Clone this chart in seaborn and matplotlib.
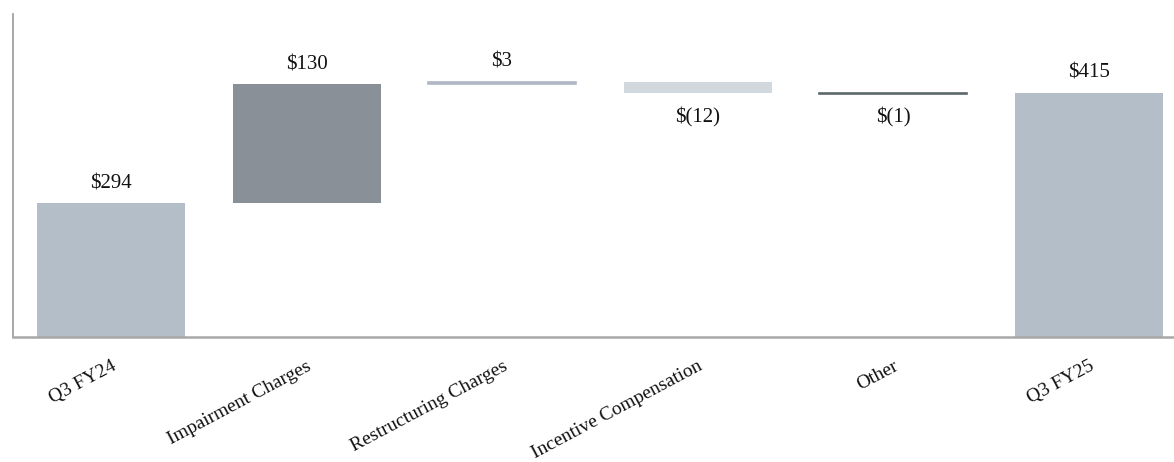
import matplotlib
matplotlib.use("Agg")
import matplotlib.pyplot as plt
import seaborn as sns
import numpy as np
import pandas as pd

categories = ["Q3 FY24", "Impairment Charges", "Restructuring Charges",
              "Incentive Compensation", "Other", "Q3 FY25"]
changes = [294, 130, 3, -12, -1, 415]
is_total = [True, False, False, False, False, True]
value_labels = ["$294", "$130", "$3", "$(12)", "$(1)", "$415"]
bar_colors = ["#B4BEC8", "#8A9097", "#AFB8C3", "#D1D9DF", "#5E686C", "#B4BEC8"]

# waterfall geometry from the data
bottoms, heights = [], []
running = 0
for v, tot in zip(changes, is_total):
    if tot:
        bottoms.append(0)
        heights.append(v)
        running = v
    else:
        if v >= 0:
            bottoms.append(running)
            heights.append(v)
        else:
            bottoms.append(running + v)
            heights.append(-v)
        running += v
tops = [b + h for b, h in zip(bottoms, heights)]

df = pd.DataFrame({"category": categories, "height": heights})

sns.set_theme(style="white")
plt.rcParams["font.family"] = ["Liberation Serif", "DejaVu Serif"]

fig = plt.figure(figsize=(11.74, 4.62), dpi=100)
ax = fig.add_axes([12.5 / 1174, 125 / 462, 1 - 12.5 / 1174, (337 - 14) / 462])

sns.barplot(data=df, x="category", y="height", order=categories,
            bottom=np.array(bottoms), width=0.757, ax=ax,
            errorbar=None, color=bar_colors[0], saturation=1)

for patch, c, ch in zip(ax.patches, bar_colors, changes):
    patch.set_facecolor(c)
    if abs(ch) <= 3:
        patch.set_edgecolor(c)
        patch.set_linewidth(1.2)
    else:
        patch.set_linewidth(0)

ax.set_xlim(-0.504, 5.437)
ax.set_ylim(148, 501)

for i, (lab, ch, tot) in enumerate(zip(value_labels, changes, is_total)):
    if ch >= 0 or tot:
        ax.annotate(lab, xy=(i, tops[i]), xytext=(0, 14), textcoords="offset points",
                    ha="center", va="center", fontsize=15, color="#111111")
    else:
        ax.annotate(lab, xy=(i, bottoms[i]), xytext=(0, -17.5), textcoords="offset points",
                    ha="center", va="center", fontsize=15, color="#111111")

ax.set_xlabel("")
ax.set_ylabel("")
ax.set_yticks([])
ax.set_xticks(range(len(categories)))
ax.set_xticklabels(categories, rotation=28, ha="right", va="top",
                   rotation_mode="anchor", fontsize=14, color="#111111")
ax.tick_params(axis="x", length=0, pad=15)

for s in ["top", "right"]:
    ax.spines[s].set_visible(False)
ax.spines["left"].set_color("#9A9A9A")
ax.spines["left"].set_linewidth(1.2)
ax.spines["bottom"].set_color("#A8A8A8")
ax.spines["bottom"].set_linewidth(1.8)

fig.savefig("out.png", dpi=100)
